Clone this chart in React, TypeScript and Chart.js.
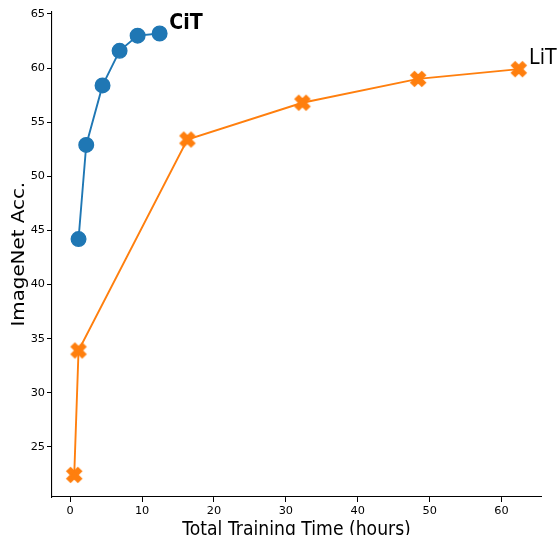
import React, { useEffect, useRef } from "react";
import { Chart, registerables } from "chart.js";

Chart.register(...registerables);

const citTime = [1.16, 2.23, 4.5, 6.87, 9.38, 12.44];
const citAcc = [44.2, 52.9, 58.4, 61.6, 63.0, 63.2];
const litTime = [0.56, 1.16, 16.3, 32.3, 48.4, 62.4];
const litAcc = [22.4, 33.9, 53.4, 56.8, 59.0, 59.9];

const xTicks = [0, 10, 20, 30, 40, 50, 60];
const yTicks = [25, 30, 35, 40, 45, 50, 55, 60, 65];

const xTitle = "Total Training Time (hours)";
const yTitle = "ImageNet Acc.";

const seriesNames = ["CiT", "LiT"];
const nameX = [13.79, 63.83];
const nameY = [63.59, 60.35];
const nameBold = [true, false];

const BLUE = "#1f77b4";
const ORANGE = "#ff7f0e";
const FONT = "'DejaVu Sans', sans-serif";
// the reference picture is slightly narrower horizontally than vertically
const H_SQUEEZE = 0.866;

function makeFilledX(size: number, color: string): HTMLCanvasElement {
  const c = document.createElement("canvas");
  const dim = 22;
  c.width = dim;
  c.height = dim;
  const ctx = c.getContext("2d")!;
  const v = [
    [0.25, 0], [0.5, 0.25], [0.25, 0.5], [0, 0.25], [-0.25, 0.5], [-0.5, 0.25],
    [-0.25, 0], [-0.5, -0.25], [-0.25, -0.5], [0, -0.25], [0.25, -0.5], [0.5, -0.25],
  ];
  ctx.beginPath();
  v.forEach(([x, y], i) => {
    const px = dim / 2 + x * size;
    const py = dim / 2 + y * size;
    if (i === 0) ctx.moveTo(px, py);
    else ctx.lineTo(px, py);
  });
  ctx.closePath();
  ctx.fillStyle = color;
  ctx.fill();
  ctx.strokeStyle = color;
  ctx.lineWidth = 1.4;
  ctx.lineJoin = "miter";
  ctx.stroke();
  return c;
}

function padRange(vals: number[]): [number, number] {
  const mn = Math.min(...vals);
  const mx = Math.max(...vals);
  const m = (mx - mn) * 0.05;
  return [mn - m, mx + m];
}

export default function App() {
  const ref = useRef<HTMLCanvasElement>(null);

  useEffect(() => {
    const [xMin, xMax] = padRange([...citTime, ...litTime]);
    const [yMin, yMax] = padRange([...citAcc, ...litAcc]);
    const xMarker = makeFilledX(14.6, ORANGE);

    const textPlugin = {
      id: "texts",
      afterDraw(chart: any) {
        const ctx = chart.ctx;
        const area = chart.chartArea;
        const xs = chart.scales.x;
        const ys = chart.scales.y;
        ctx.save();
        ctx.fillStyle = "#000";
        ctx.textBaseline = "alphabetic";

        // x title
        ctx.save();
        ctx.translate((area.left + area.right) / 2, 534.5);
        ctx.scale(H_SQUEEZE, 1);
        ctx.font = `19.9px ${FONT}`;
        ctx.textAlign = "center";
        ctx.fillText(xTitle, 0, 0);
        ctx.restore();

        // y title
        ctx.save();
        ctx.translate(24, (area.top + area.bottom) / 2);
        ctx.rotate(-Math.PI / 2);
        ctx.scale(1 / H_SQUEEZE, 1);
        ctx.font = `17.2px ${FONT}`;
        ctx.textAlign = "center";
        ctx.fillText(yTitle, 0, 0);
        ctx.restore();

        // series names
        seriesNames.forEach((name, i) => {
          ctx.save();
          ctx.translate(xs.getPixelForValue(nameX[i]), ys.getPixelForValue(nameY[i]));
          ctx.scale(H_SQUEEZE, 1);
          ctx.font = `${nameBold[i] ? "bold " : ""}22px ${FONT}`;
          ctx.textAlign = "left";
          ctx.fillText(name, 0, 0);
          ctx.restore();
        });
        ctx.restore();
      },
    };

    const chart = new Chart(ref.current!, {
      type: "scatter",
      data: {
        datasets: [
          {
            label: seriesNames[0],
            data: citTime.map((t, i) => ({ x: t, y: citAcc[i] })),
            showLine: true,
            borderColor: BLUE,
            backgroundColor: BLUE,
            borderWidth: 1.9,
            pointRadius: 7.3,
            pointBorderWidth: 1.4,
            pointBackgroundColor: BLUE,
            pointBorderColor: BLUE,
            pointStyle: "circle",
          },
          {
            label: seriesNames[1],
            data: litTime.map((t, i) => ({ x: t, y: litAcc[i] })),
            showLine: true,
            borderColor: ORANGE,
            backgroundColor: ORANGE,
            borderWidth: 1.9,
            pointRadius: 8,
            pointStyle: xMarker as any,
          },
        ],
      },
      options: {
        responsive: false,
        animation: false,
        devicePixelRatio: 1,
        layout: { padding: { top: 11.4, right: 17, left: 0, bottom: 0 } },
        plugins: { legend: { display: false }, tooltip: { enabled: false } },
        elements: { line: { tension: 0 } },
        scales: {
          x: {
            type: "linear",
            min: xMin,
            max: xMax,
            afterBuildTicks: (axis: any) => {
              axis.ticks = xTicks.map((v) => ({ value: v }));
            },
            afterFit: (axis: any) => {
              axis.height = 38;
            },
            grid: { drawOnChartArea: false, drawTicks: true, tickLength: 5, color: "#000", lineWidth: 1 },
            border: { display: true, color: "#000", width: 1.1 },
            ticks: { color: "#000", font: { family: FONT, size: 11.3 }, padding: 2, maxRotation: 0 },
          },
          y: {
            type: "linear",
            min: yMin,
            max: yMax,
            afterBuildTicks: (axis: any) => {
              axis.ticks = yTicks.map((v) => ({ value: v }));
            },
            afterFit: (axis: any) => {
              axis.width = 52;
            },
            grid: { drawOnChartArea: false, drawTicks: true, tickLength: 5, color: "#000", lineWidth: 1 },
            border: { display: true, color: "#000", width: 1.1 },
            ticks: { color: "#000", font: { family: FONT, size: 11.3 }, padding: 2 },
          },
        },
      },
      plugins: [textPlugin],
    });
    return () => chart.destroy();
  }, []);

  return (
    <div style={{ position: "fixed", left: 0, top: 0, width: 558, height: 535, background: "#fff" }}>
      <canvas ref={ref} width={558} height={535} />
    </div>
  );
}
